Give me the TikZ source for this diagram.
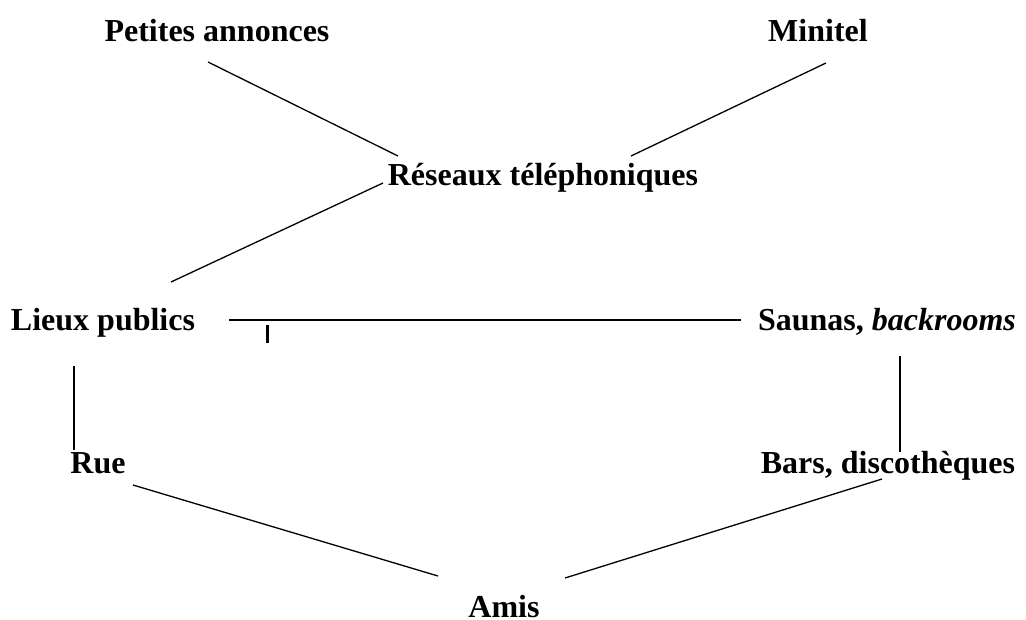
\documentclass[tikz,border=0pt]{standalone}
\usepackage{fontspec}
\setmainfont{Liberation Serif}
\begin{document}
\begin{tikzpicture}[x=1pt,y=-1pt,
  lbl/.style={font=\fontsize{32}{38}\selectfont\bfseries, inner sep=0pt, anchor=base},
  lnk/.style={line width=1.3pt}]
\useasboundingbox (0,0) rectangle (1026,619);
% labels
\node[lbl] (pa) at (217,41) {Petites annonces};
\node[lbl] (mi) at (818,41) {Minitel};
\node[lbl] (res) at (543,185) {Réseaux téléphoniques};
\node[lbl] (lp) at (103,330) {Lieux publics};
\node[lbl] (sa) at (887,330) {Saunas, \textit{backrooms}};
\node[lbl] (rue) at (98,473) {Rue};
\node[lbl] (bars) at (888,473) {Bars, discothèques};
\node[lbl] (amis) at (504,617) {Amis};

% links
\draw[lnk] ([shift={(-9,21)}]pa.base) to ([shift={(-145,-29)}]res.base);
\draw[lnk] ([shift={(8,22)}]mi.base) to ([shift={(88,-29)}]res.base);
\draw[lnk] ([shift={(68,-48)}]lp.base) to ([shift={(-160,-2)}]res.base);
\draw[lnk] ([shift={(126,-10)}]lp.base) to ([shift={(-146,-10)}]sa.base);
\draw[line width=3pt] ([shift={(164,-5)}]lp.base) to ([shift={(164,13)}]lp.base);
\draw[lnk] ([shift={(-29,36)}]lp.base) to ([shift={(-24,-23)}]rue.base);
\draw[lnk] ([shift={(13,26)}]sa.base) to ([shift={(12,-21)}]bars.base);
\draw[lnk] ([shift={(35,12)}]rue.base) to ([shift={(-66,-41)}]amis.base);
\draw[lnk] ([shift={(-6,6)}]bars.base) to ([shift={(61,-39)}]amis.base);
\end{tikzpicture}
\end{document}
